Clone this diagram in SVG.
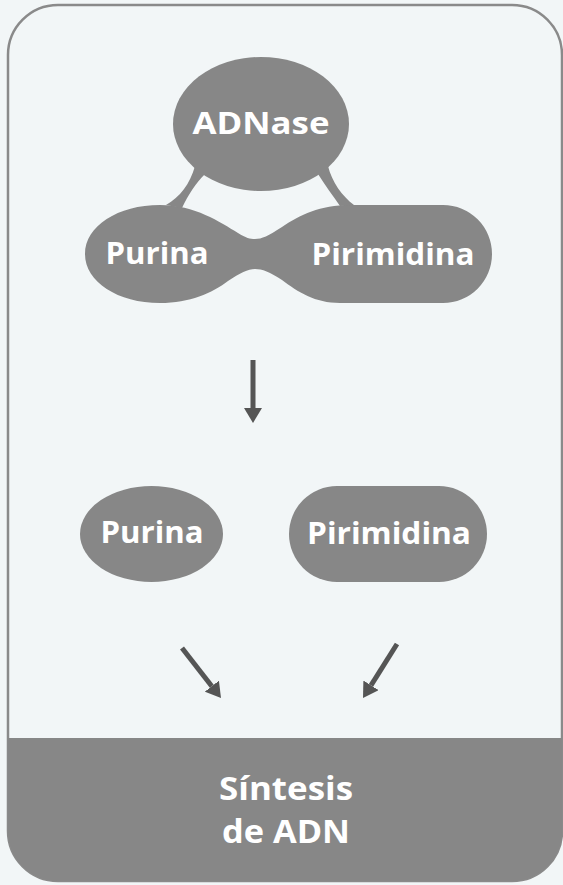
<svg xmlns="http://www.w3.org/2000/svg" width="563" height="885" viewBox="0 0 563 885">
<style>
.shape{fill:#878787}
.lbl{fill:#ffffff;font-family:"Open Sans","Liberation Sans",sans-serif;font-weight:700;text-anchor:middle}
.arrow{stroke:#555555;stroke-width:5;fill:none}
</style>
<defs>
<marker id="ah" viewBox="0 0 10 12" refX="0" refY="6" markerWidth="3" markerHeight="3.6" orient="auto" markerUnits="strokeWidth">
<path d="M0,0 L10,6 L0,12 Z" fill="#555555"/>
</marker>
</defs>
<rect x="0" y="0" width="563" height="885" fill="#f2f6f7"/>
<g id="frame">
<rect x="8" y="5" width="554" height="876" rx="50" ry="50" fill="#f2f6f7" stroke="#8a8a8a" stroke-width="2.5"/>
</g>
<g id="adnase">
<ellipse class="shape" cx="261" cy="124" rx="88" ry="67"/>
<text class="lbl" x="261" y="134" font-size="31" textLength="137" lengthAdjust="spacingAndGlyphs">ADNase</text>
</g>
<g id="top-pair">
<path class="shape" d="M85 254 C85 226 118 205 160 205 C195 205 220 222 238 233 C246 238 250 239 255 239 C262 239 268 236 282 227 C300 215 320 205 350 205 L443 205 A49 49 0 0 1 443 303 L340 303 C315 303 298 292 282 280 C270 272 262 269 255 269 C248 269 240 273 228 281 C212 293 190 303 160 303 C118 303 85 282 85 254 Z"/>
<text class="lbl" x="157" y="264" font-size="30" textLength="103" lengthAdjust="spacingAndGlyphs">Purina</text>
<text class="lbl" x="393" y="265" font-size="30" textLength="163" lengthAdjust="spacingAndGlyphs">Pirimidina</text>
</g>
<g id="connectors">
<path class="shape" d="M205 174 C196 183 188 195 182 208 L166 205 C180 197 190 184 195 166 Z"/>
<path class="shape" d="M318 174 C325 185 333 196 340 206 L354 205 C342 196 332 182 328 166 Z"/>
<line class="arrow" x1="253" y1="360" x2="253" y2="408" marker-end="url(#ah)"/>
<line class="arrow" x1="182" y1="648" x2="211.8" y2="686.2" marker-end="url(#ah)"/>
<line class="arrow" x1="397" y1="644" x2="371" y2="685.3" marker-end="url(#ah)"/>
</g>
<g id="purina">
<ellipse class="shape" cx="151.5" cy="534" rx="71.5" ry="48"/>
<text class="lbl" x="152" y="543" font-size="30" textLength="103" lengthAdjust="spacingAndGlyphs">Purina</text>
</g>
<g id="pirimidina">
<rect class="shape" x="289" y="486" width="198" height="96" rx="48" ry="48"/>
<text class="lbl" x="389" y="544" font-size="30" textLength="164" lengthAdjust="spacingAndGlyphs">Pirimidina</text>
</g>
<g id="sintesis">
<path class="shape" d="M8 738 H562 V831 A50 50 0 0 1 512 881 H58 A50 50 0 0 1 8 831 Z"/>
<text class="lbl" x="286" y="800" font-size="32" textLength="134" lengthAdjust="spacingAndGlyphs">Síntesis</text>
<text class="lbl" x="286" y="843" font-size="32" textLength="128" lengthAdjust="spacingAndGlyphs">de ADN</text>
</g>
</svg>
